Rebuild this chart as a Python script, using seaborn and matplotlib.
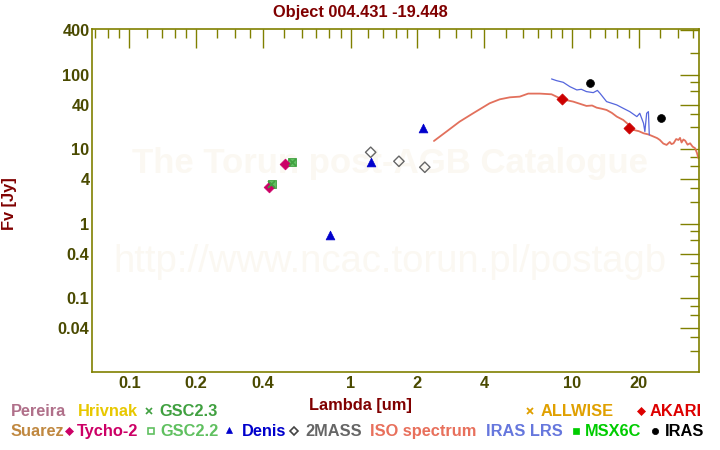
import matplotlib
matplotlib.use("Agg")
import matplotlib.pyplot as plt
from matplotlib.lines import Line2D
import seaborn as sns

# ---------------- data ----------------
tycho_wl = [0.429, 0.503]
tycho_fl = [3.14, 6.33]
gsc23_wl = [0.438, 0.545]
gsc23_fl = [3.44, 6.80]
gsc22_wl = [0.440, 0.545]
gsc22_fl = [3.44, 6.80]
denis_wl = [0.809, 1.239, 2.13]
denis_fl = [0.712, 6.80, 19.4]
mass2_wl = [1.23, 1.65, 2.16]
mass2_fl = [9.17, 6.94, 5.77]
akari_wl = [9.01, 18.1]
akari_fl = [47.2, 19.6]
iras_wl = [12.06, 25.3]
iras_fl = [77.4, 26.2]

iso_wl = [2.375, 2.70, 3.10, 3.57, 4.24, 4.71, 5.23, 5.80, 6.33, 7.14, 8.07, 9.01,
          10.1, 11.6, 12.3, 12.9, 13.6, 14.3, 15.1, 15.9, 17.0, 18.0, 18.9, 20.0,
          21.0, 22.1, 23.3, 24.2, 24.9, 25.8, 26.7, 27.6, 28.1, 28.7, 29.5, 30.2,
          30.7, 31.2, 31.8, 32.4, 33.2, 34.1, 35.0, 35.9, 36.6, 37.2]
iso_fl = [13.0, 17.3, 23.6, 30.6, 41.7, 47.1, 50.1, 51.2, 56.2, 56.2, 55.0, 47.1,
          43.9, 38.4, 38.9, 36.4, 35.2, 33.9, 31.0, 27.6, 24.9, 21.5, 18.3, 17.6,
          16.5, 15.9, 14.9, 14.2, 13.4, 12.0, 11.5, 12.6, 11.8, 12.1, 13.8, 13.4,
          14.3, 12.4, 13.6, 13.1, 11.6, 12.1, 10.9, 10.4, 9.0, 7.6]

lrs_wl = [8.07, 8.50, 9.11, 9.76, 10.5, 11.0, 11.6, 12.45, 13.0, 13.35, 14.3,
          15.9, 17.0, 18.2, 19.6, 20.2, 21.0, 21.3, 21.7, 22.1, 22.3]
lrs_fl = [88.4, 83.9, 79.7, 69.7, 62.9, 64.2, 59.8, 57.9, 62.0, 56.8, 43.9,
          39.6, 35.7, 32.2, 27.6, 30.6, 22.5, 17.4, 30.6, 32.2, 15.7]

x_major = [0.1, 0.2, 0.4, 1, 2, 4, 10, 20]
x_major_labels = ["0.1", "0.2", "0.4", "1", "2", "4", "10", "20"]
x_minor = [0.07, 0.08, 0.09, 0.12, 0.14, 0.16, 0.18, 0.25, 0.3, 0.35, 0.5, 0.6,
           0.7, 0.8, 0.9, 1.2, 1.4, 1.6, 1.8, 2.5, 3, 3.5, 5, 6, 7, 8, 9, 12,
           14, 16, 18, 25, 30, 35]
y_major = [0.04, 0.1, 0.4, 1, 4, 10, 40, 100, 400]
y_major_labels = ["0.04", "0.1", "0.4", "1", "4", "10", "40", "100", "400"]
y_minor = [0.02, 0.03, 0.06, 0.08, 0.2, 0.3, 0.6, 0.8, 2, 3, 6, 8, 20, 30,
           60, 80, 200]

title = "Object 004.431 -19.448"

# ---------------- style ----------------
sns.set_style("white")
plt.rcParams['font.family'] = ['Liberation Sans', 'DejaVu Sans']
plt.rcParams['font.weight'] = 'bold'

W, H = 720, 450
fig = plt.figure(figsize=(7.2, 4.5), dpi=100)
L, R, T, B = 92.3, 699.0, 29.3, 371.7
ax = fig.add_axes([L / W, 1 - B / H, (R - L) / W, (B - T) / H])
ax.set_xscale('log')
ax.set_yscale('log')
ax.set_xlim(0.068, 37.4)
ax.set_ylim(0.0104, 410)

olive = '#808000'
tickc = '#4a4a00'
dred = '#800000'
fs = 11.8

for s in ax.spines.values():
    s.set_color(olive)
    s.set_linewidth(1.2)

ax.set_xticks(x_major)
ax.set_xticklabels(x_major_labels)
ax.set_xticks(x_minor, minor=True)
ax.set_yticks(y_major)
ax.set_yticklabels(y_major_labels)
ax.set_yticks(y_minor, minor=True)
ax.tick_params(which='both', direction='in', top=True, right=True, color=olive,
               width=1.0, labelcolor=tickc, labelsize=fs)
ax.tick_params(which='major', length=13.5)
ax.tick_params(which='minor', length=6.8)
ax.tick_params(axis='x', which='both', pad=3)
ax.tick_params(axis='y', which='both', pad=2)
ax.tick_params(which='minor', labelbottom=False, labelleft=False)
for lab in ax.get_xticklabels() + ax.get_yticklabels():
    lab.set_fontweight('bold')

# watermark
wm = '#fbf8f2'
ax.text(0.49, 0.6095, "The Torun post-AGB Catalogue", transform=ax.transAxes,
        ha='center', va='center', fontsize=25, color=wm, fontweight='bold', zorder=0)
ax.text(0.49, 0.32, "http://www.ncac.torun.pl/postagb", transform=ax.transAxes,
        ha='center', va='center', fontsize=27.5, color=wm, fontweight='normal', zorder=0)

# spectra
sns.lineplot(x=iso_wl, y=iso_fl, ax=ax, color='#e2705c', lw=1.3, sort=False,
             estimator=None, zorder=2)
sns.lineplot(x=lrs_wl, y=lrs_fl, ax=ax, color='#5566dd', lw=0.9, sort=False,
             estimator=None, zorder=2)

# photometry
sns.scatterplot(x=gsc22_wl, y=gsc22_fl, ax=ax, marker='s', s=30, color='#60c060',
                edgecolor='#40a040', linewidth=0.6, zorder=3)
sns.scatterplot(x=tycho_wl, y=tycho_fl, ax=ax, marker='D', s=30, color='#cc0066',
                edgecolor='#cc0066', linewidth=0.5, zorder=3)
sns.scatterplot(x=gsc23_wl, y=gsc23_fl, ax=ax, marker='x', s=25, color='#40a040',
                linewidth=1.2, zorder=4)
sns.scatterplot(x=denis_wl, y=denis_fl, ax=ax, marker='^', s=40, color='#0000cc',
                edgecolor='#0000cc', linewidth=0.5, zorder=3)
sns.scatterplot(x=mass2_wl, y=mass2_fl, ax=ax, marker='D', s=28, facecolor='none',
                edgecolor='#666666', linewidth=1.0, zorder=3)
sns.scatterplot(x=akari_wl, y=akari_fl, ax=ax, marker='D', s=32, color='#cc0000',
                edgecolor='#cc0000', linewidth=0.5, zorder=4)
sns.scatterplot(x=iras_wl, y=iras_fl, ax=ax, marker='o', s=32, color='black',
                edgecolor='black', linewidth=0.5, zorder=4)

ax.set_xlabel('')
ax.set_ylabel('')

# titles / labels
def px(x, y):
    return x / W, 1 - y / H

fig.text(*px(360, 17.3), title, ha='center', va='baseline', fontsize=fs,
         color=dred, fontweight='bold')
fig.text(*px(360, 410.3), "Lambda [um]", ha='center', va='baseline', fontsize=fs,
         color=dred, fontweight='bold')
fig.text(*px(9.5, 204), "Fv [Jy]", ha='center', va='center', rotation=90,
         fontsize=fs, color=dred, fontweight='bold')

# legend texts
row1, row2 = 415.7, 435.7
legend_items = [
    ("Pereira", 10.7, row1, '#b0708a'),
    ("Hrivnak", 77.7, row1, '#e8c800'),
    ("GSC2.3", 159.3, row1, '#40a040'),
    ("ALLWISE", 541, row1, '#e0a000'),
    ("AKARI", 650, row1, '#dd0000'),
    ("Suarez", 10.7, row2, '#c08840'),
    ("Tycho-2", 77.3, row2, '#cc0066'),
    ("GSC2.2", 160, row2, '#60c060'),
    ("Denis", 241.7, row2, '#0000cc'),
    ("2MASS", 305, row2, '#666666'),
    ("ISO spectrum", 370, row2, '#e8705c'),
    ("IRAS LRS", 486, row2, '#6677dd'),
    ("MSX6C", 585, row2, '#00cc00'),
    ("IRAS", 665, row2, '#000000'),
]
for txt, x, y, c in legend_items:
    fig.text(*px(x, y), txt, ha='left', va='baseline', fontsize=fs, color=c,
             fontweight='bold')

legend_marks = [
    (149, 410.5, 'x', '#40a040', '#40a040', 4.0, 1.2),
    (530, 410.5, 'x', '#e0a000', '#e0a000', 5.0, 1.3),
    (641, 410.5, 'D', '#dd0000', '#dd0000', 4.5, 0.5),
    (69, 430.5, 'D', '#cc0066', '#cc0066', 4.5, 0.5),
    (150.7, 430.5, 's', 'none', '#60c060', 4.0, 1.2),
    (229, 430, '^', '#0000cc', '#0000cc', 5.0, 0.5),
    (294, 430.5, 'D', 'none', '#444444', 4.0, 1.2),
    (575.7, 430.5, 's', '#00cc00', '#00cc00', 4.5, 0.5),
    (655, 430.5, 'o', '#000000', '#000000', 4.5, 0.5),
]
for x, y, m, fc, ec, ms, mew in legend_marks:
    fx, fy = px(x, y)
    fig.add_artist(Line2D([fx], [fy], transform=fig.transFigure, marker=m,
                          markersize=ms, markerfacecolor=fc, markeredgecolor=ec,
                          markeredgewidth=mew, linestyle='none'))

fig.savefig("out.png", dpi=100)
